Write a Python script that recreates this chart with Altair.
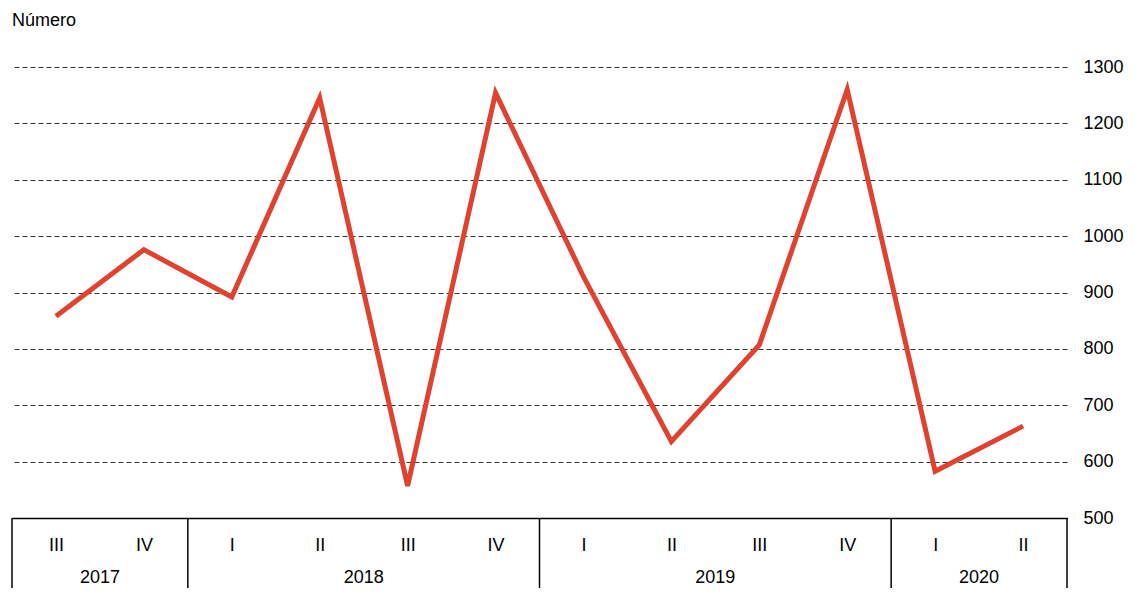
import altair as alt
import pandas as pd

# ---- data ----
quarters = ["III", "IV", "I", "II", "III", "IV", "I", "II", "III", "IV", "I", "II"]
years = ["2017", "2017", "2018", "2018", "2018", "2018",
         "2019", "2019", "2019", "2019", "2020", "2020"]
values = [858, 976, 892, 1245, 557, 1254, 928, 636, 807, 1260, 583, 663]
y_ticks = [500, 600, 700, 800, 900, 1000, 1100, 1200, 1300]
unit_label = ["Número"]

FONT = "Liberation Sans"
RED = "#DF4330"

idx = list(range(len(quarters)))
df = pd.DataFrame({"idx": idx, "quarter": quarters, "year": years, "value": values})

# year groups: centre and boundaries in quarter-index units
year_names = []
year_centers = []
bounds = [-0.5]
for i, y in enumerate(years):
    if not year_names or year_names[-1] != y:
        year_names.append(y)
        start = i
    if i == len(years) - 1 or years[i + 1] != y:
        year_centers.append((start + i) / 2)
        bounds.append(i + 0.5)
df_years = pd.DataFrame({"year": year_names, "center": year_centers})
df_bounds = pd.DataFrame({"b": bounds})
df_unit = pd.DataFrame({"t": unit_label})

label_array = "[" + ",".join("'" + q + "'" for q in quarters) + "]"

xscale = alt.Scale(domain=[-0.5, len(quarters) - 0.5], nice=False, zero=False)
yscale = alt.Scale(domain=[500, 1300], nice=False, zero=False)

line = alt.Chart(df).mark_line(color=RED, strokeWidth=5, strokeJoin="miter").encode(
    x=alt.X("idx:Q", scale=xscale,
            axis=alt.Axis(values=idx, labelExpr=label_array + "[datum.value]",
                          title=None, ticks=False, tickSize=0, grid=False,
                          domain=True, domainColor="#000", domainWidth=1.5,
                          labelFont=FONT, labelFontSize=18, labelColor="#000",
                          labelBaseline="middle", labelPadding=27,
                          labelFlush=False, labelOverlap=False)),
    y=alt.Y("value:Q", scale=yscale,
            axis=alt.Axis(orient="right", values=y_ticks, title=None, format="d",
                          ticks=False, tickSize=0, domain=False,
                          grid=True, gridDash=[5, 3], gridColor="#333",
                          gridWidth=1,
                          labelFont=FONT, labelFontSize=18, labelColor="#000",
                          labelPadding=16, labelAlign="left")),
)

seps = alt.Chart(df_bounds).mark_rule(color="#000", strokeWidth=1.5).encode(
    x=alt.X("b:Q", scale=xscale),
    y=alt.value(451),
    y2=alt.value(530),
)

year_text = alt.Chart(df_years).mark_text(
    font=FONT, fontSize=18, color="#000", baseline="alphabetic", align="center"
).encode(
    x=alt.X("center:Q", scale=xscale),
    y=alt.value(516),
    text="year:N",
)

unit_text = alt.Chart(df_unit).mark_text(
    font=FONT, fontSize=18, color="#000", baseline="alphabetic", align="left"
).encode(
    x=alt.value(0),
    y=alt.value(-41),
    text="t:N",
)

chart = alt.layer(seps, line, year_text, unit_text).properties(
    width=1055,
    height=451,
    autosize=alt.AutoSizeParams(type="none"),
    padding={"left": 4, "top": 59, "right": 60, "bottom": 70},
).configure_view(stroke=None)

chart.save("out.html", embed_options={"renderer": "svg", "actions": False})
